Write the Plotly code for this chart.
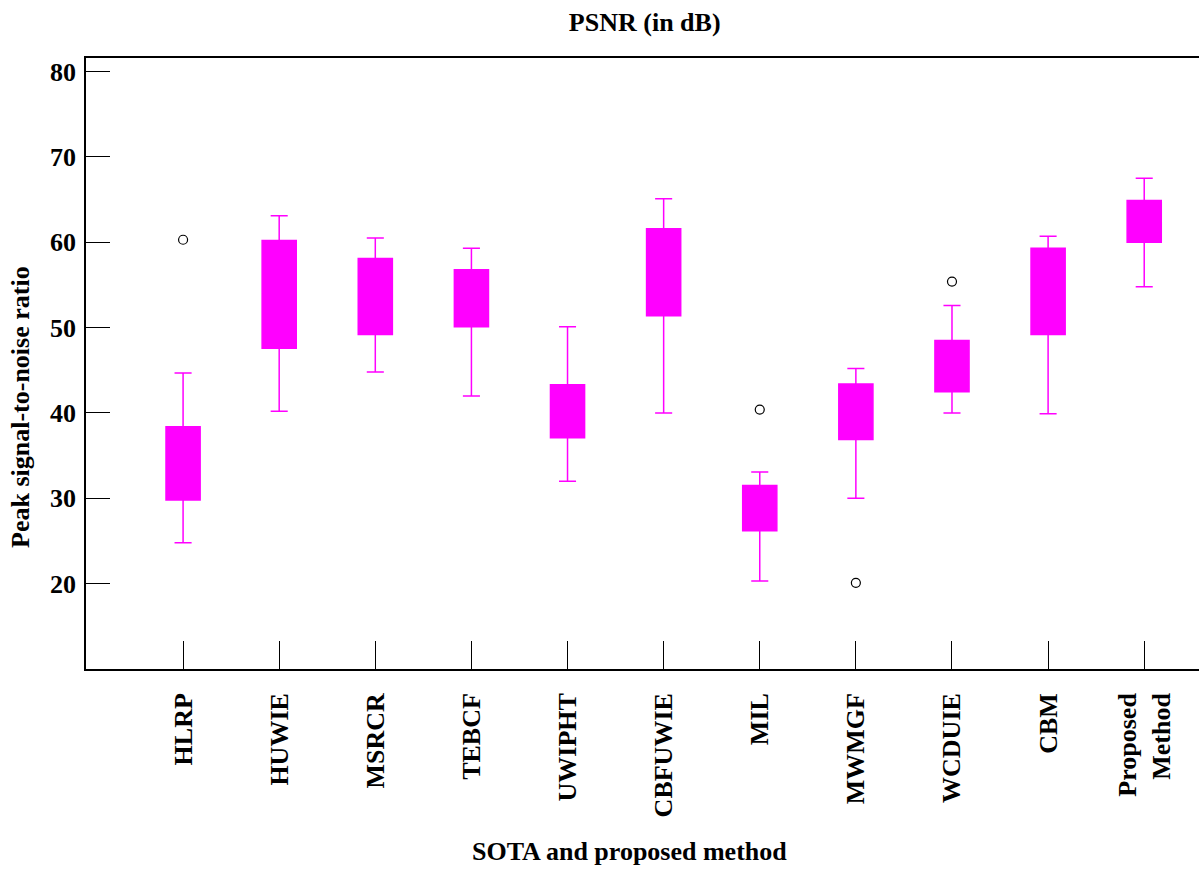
import plotly.graph_objects as go

methods = ["HLRP", "HUWIE", "MSRCR", "TEBCF", "UWIPHT", "CBFUWIE", "MIL", "MWMGF", "WCDUIE", "CBM", "Proposed<br>Method"]
lower = [24.8, 40.2, 44.8, 42.0, 32.0, 40.0, 20.3, 30.0, 40.0, 39.9, 54.8]
q1 =    [29.8, 47.6, 49.2, 50.1, 37.1, 51.4, 26.2, 36.9, 42.5, 49.2, 60.0]
median =[34.0, 54.0, 53.5, 53.5, 40.0, 56.5, 28.8, 40.0, 45.5, 54.0, 62.5]
q3 =    [38.4, 60.2, 58.1, 56.8, 43.3, 61.6, 31.5, 43.4, 48.5, 59.3, 64.9]
upper = [44.7, 63.1, 60.5, 59.3, 50.1, 65.1, 33.1, 45.2, 52.6, 60.7, 67.5]

outlier_x = ["HLRP", "MIL", "MWMGF", "WCDUIE"]
outlier_y = [60.3, 40.4, 20.1, 55.4]

MAG = "#ff00ff"
FONT = "Liberation Serif, Times New Roman, serif"
BF = dict(family=FONT, size=26, color="black", weight="bold")

fig = go.Figure()
fig.add_trace(go.Box(
    x=methods, q1=q1, median=median, q3=q3,
    lowerfence=lower, upperfence=upper,
    fillcolor=MAG, line=dict(color=MAG, width=1.5),
    width=0.355, whiskerwidth=0.5, boxpoints=False, showlegend=False,
))
fig.add_trace(go.Scatter(
    x=outlier_x, y=outlier_y, mode="markers",
    marker=dict(symbol="circle-open", size=9, color="black", line=dict(width=1.2)),
    showlegend=False,
))

fig.update_layout(
    width=1201, height=869,
    margin=dict(l=86, r=2, t=58, b=200),
    plot_bgcolor="white", paper_bgcolor="white",
    font=dict(family=FONT, size=26, color="black"),
    title=dict(text="PSNR (in dB)", xref="paper", x=0.502, xanchor="center",
               yref="container", y=1 - 22 / 869, yanchor="middle", font=BF),
    xaxis=dict(
        type="category", categoryorder="array", categoryarray=methods,
        range=[-1.01, 10.57],
        showline=True, linecolor="black", linewidth=1.5, mirror=True,
        ticks="inside", ticklen=28, tickcolor="black", tickwidth=1.2,
        tickangle=-90, tickfont=BF, ticklabelstandoff=12,
        showgrid=False, zeroline=False,
    ),
    yaxis=dict(
        range=[10, 81.6],
        tickvals=[20, 30, 40, 50, 60, 70, 80],
        showline=True, linecolor="black", linewidth=1.5,
        ticks="inside", ticklen=24, tickcolor="black", tickwidth=1.2,
        tickfont=BF, ticklabelstandoff=3,
        showgrid=False, zeroline=False,
    ),
    annotations=[
        dict(text="SOTA and proposed method", xref="paper", yref="paper",
             x=0.488, y=(669 - 851) / 611, xanchor="center", yanchor="middle",
             showarrow=False, font=BF),
        dict(text="Peak signal-to-noise ratio", xref="paper", yref="paper",
             x=(20 - 86) / 1113, y=(669 - 407) / 611, xanchor="center", yanchor="middle",
             textangle=-90, showarrow=False, font=BF),
    ],
)

fig.write_html("out.html")
